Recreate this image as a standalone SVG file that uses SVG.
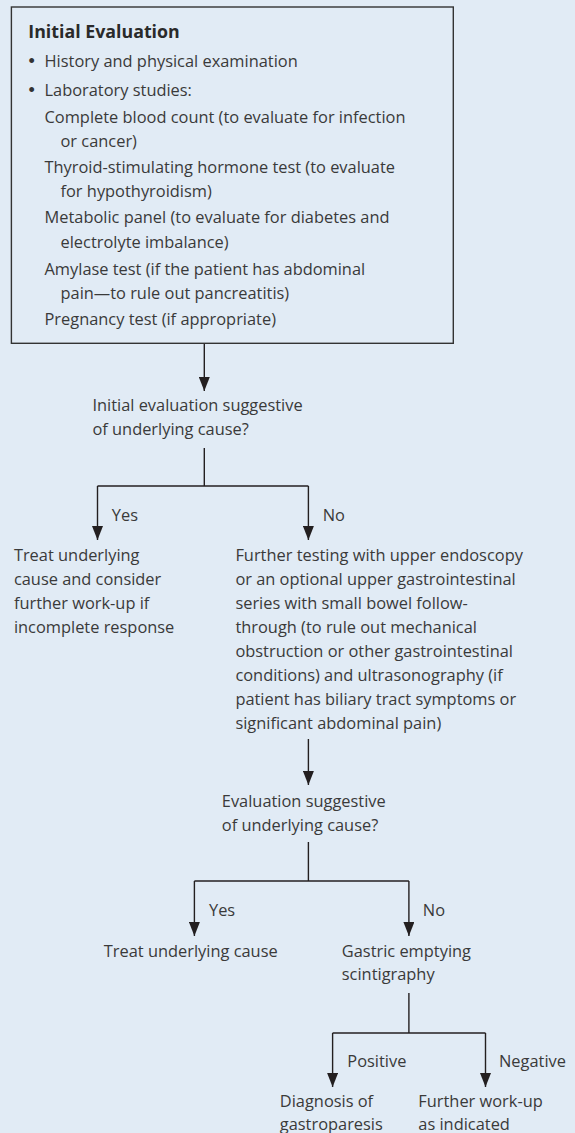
<svg xmlns="http://www.w3.org/2000/svg" width="575" height="1133" viewBox="0 0 575 1133">
<defs>
<marker id="arr" viewBox="0 0 14 11" refX="14" refY="5.5" markerWidth="14" markerHeight="11" markerUnits="userSpaceOnUse" orient="auto">
<path d="M0,0 L14,5.5 L0,11 z" fill="#231f20"/>
</marker>
<style>
.t{font-family:"Open Sans","Noto Sans","Liberation Sans",sans-serif;font-size:16.4px;font-weight:400;fill:#3a3a3a;}
.b{font-weight:bold;font-size:17.8px;fill:#2a2a2a;}
.bu{font-family:"Liberation Sans",Arial,sans-serif;font-size:18px;fill:#333333;}
.ln{fill:none;stroke:#231f20;stroke-width:1.4;}
.ar{fill:none;stroke:#231f20;stroke-width:1.4;marker-end:url(#arr);}
</style>
</defs>
<rect x="0" y="0" width="575" height="1133" fill="#e1ebf5"/>
<g id="connectors">
<line class="ar" x1="204.3" y1="343.5" x2="204.3" y2="391"/>
<line class="ln" x1="204.3" y1="448" x2="204.3" y2="486"/>
<line class="ln" x1="97.5" y1="486" x2="308.4" y2="486"/>
<line class="ar" x1="97.5" y1="486" x2="97.5" y2="540"/>
<line class="ar" x1="308.4" y1="486" x2="308.4" y2="540"/>
<line class="ar" x1="308.4" y1="739" x2="308.4" y2="785"/>
<line class="ln" x1="308.4" y1="842" x2="308.4" y2="881"/>
<line class="ln" x1="194.4" y1="881" x2="408.9" y2="881"/>
<line class="ar" x1="194.4" y1="881" x2="194.4" y2="936"/>
<line class="ar" x1="408.9" y1="881" x2="408.9" y2="936"/>
<line class="ln" x1="408.9" y1="993" x2="408.9" y2="1033"/>
<line class="ln" x1="332.6" y1="1033" x2="485.5" y2="1033"/>
<line class="ar" x1="332.6" y1="1033" x2="332.6" y2="1087"/>
<line class="ar" x1="485.5" y1="1033" x2="485.5" y2="1087"/>
<text class="t" x="111.8" y="520.7">Yes</text>
<text class="t" x="322.7" y="520.7">No</text>
<text class="t" x="209" y="915.7">Yes</text>
<text class="t" x="422.8" y="915.7">No</text>
<text class="t" x="347.3" y="1067">Positive</text>
<text class="t" x="499" y="1067">Negative</text>
</g>
<g id="initial-evaluation">
<rect x="11.4" y="7" width="441.9" height="336.3" fill="#e1ebf5" stroke="#333333" stroke-width="1.4"/>
<text class="t b" x="28.3" y="37.5">Initial Evaluation</text>
<text class="bu" x="28.5" y="66.7">•</text>
<text class="t" x="44.5" y="66.7">History and physical examination</text>
<text class="bu" x="28.5" y="95.7">•</text>
<text class="t" x="44.5" y="95.7">Laboratory studies:</text>
<text class="t" x="44.5" y="123.3">Complete blood count (to evaluate for infection</text>
<text class="t" x="60.5" y="146.7">or cancer)</text>
<text class="t" x="44.5" y="173.3">Thyroid-stimulating hormone test (to evaluate</text>
<text class="t" x="60.5" y="196.7">for hypothyroidism)</text>
<text class="t" x="44.5" y="223.3">Metabolic panel (to evaluate for diabetes and</text>
<text class="t" x="60.5" y="247.7">electrolyte imbalance)</text>
<text class="t" x="44.5" y="275">Amylase test (if the patient has abdominal</text>
<text class="t" x="60.5" y="299">pain—to rule out pancreatitis)</text>
<text class="t" x="44.5" y="325">Pregnancy test (if appropriate)</text>
</g>
<g id="decision1">
<text class="t" x="92.4" y="411.3">Initial evaluation suggestive</text>
<text class="t" x="92.4" y="434.7">of underlying cause?</text>
</g>
<g id="treat1">
<text class="t" x="13.9" y="560.7">Treat underlying</text>
<text class="t" x="13.9" y="585">cause and consider</text>
<text class="t" x="13.9" y="609">further work-up if</text>
<text class="t" x="13.9" y="633.3">incomplete response</text>
</g>
<g id="further-testing">
<text class="t" x="235.4" y="560.7">Further testing with upper endoscopy</text>
<text class="t" x="235.4" y="585">or an optional upper gastrointestinal</text>
<text class="t" x="235.4" y="609">series with small bowel follow-</text>
<text class="t" x="235.4" y="633.3">through (to rule out mechanical</text>
<text class="t" x="235.4" y="656.7">obstruction or other gastrointestinal</text>
<text class="t" x="235.4" y="680.7">conditions) and ultrasonography (if</text>
<text class="t" x="235.4" y="705">patient has biliary tract symptoms or</text>
<text class="t" x="235.4" y="729">significant abdominal pain)</text>
</g>
<g id="decision2">
<text class="t" x="221.8" y="807.3">Evaluation suggestive</text>
<text class="t" x="221.8" y="831">of underlying cause?</text>
</g>
<g id="treat2">
<text class="t" x="103.8" y="956.7">Treat underlying cause</text>
</g>
<g id="scintigraphy">
<text class="t" x="341.8" y="956.7">Gastric emptying</text>
<text class="t" x="341.8" y="980">scintigraphy</text>
</g>
<g id="diagnosis">
<text class="t" x="279.8" y="1106.7">Diagnosis of</text>
<text class="t" x="279.8" y="1129.5">gastroparesis</text>
</g>
<g id="further-workup">
<text class="t" x="418.3" y="1106.7">Further work-up</text>
<text class="t" x="418.3" y="1129.5">as indicated</text>
</g>
</svg>
